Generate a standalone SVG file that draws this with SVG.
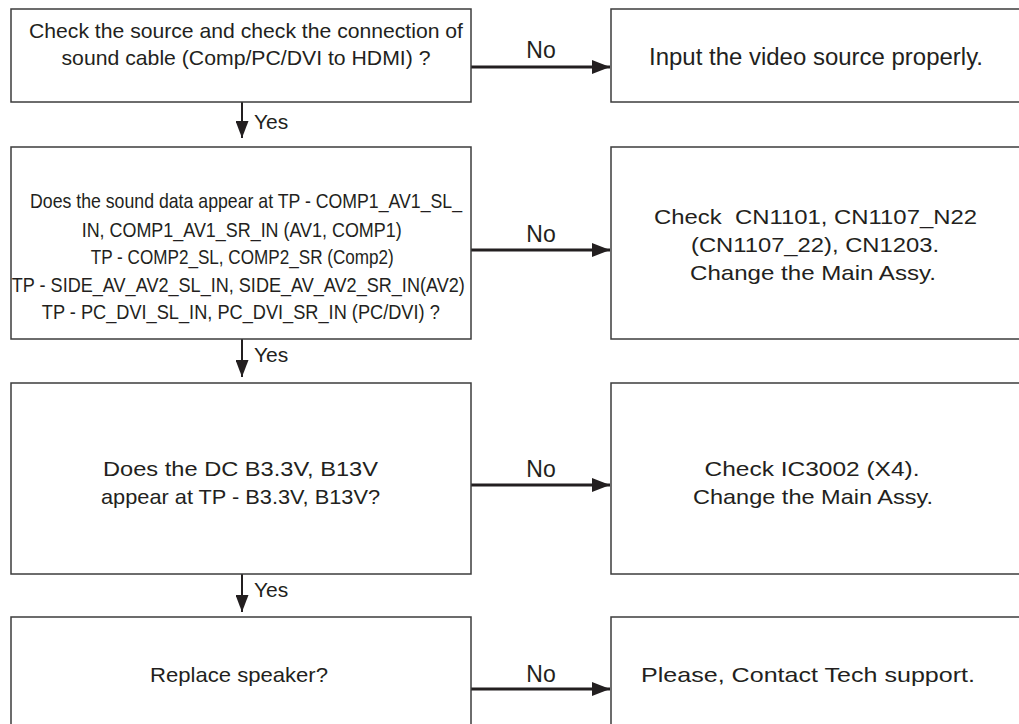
<svg xmlns="http://www.w3.org/2000/svg" width="1019" height="724" viewBox="0 0 1019 724">
<style>
.box{fill:#fff;stroke:#3c3c3c;stroke-width:1.5}
.t{font-family:"Liberation Sans",Arial,sans-serif;font-size:21px;fill:#231f20;text-anchor:middle}
.no-l{font-family:"Liberation Sans",Arial,sans-serif;font-size:23px;fill:#231f20;text-anchor:middle}
.yes-l{font-family:"Liberation Sans",Arial,sans-serif;font-size:21px;fill:#231f20}
.no{stroke:#231f20;stroke-width:3;fill:none}
.yes{stroke:#231f20;stroke-width:2;fill:none}
</style>
<defs>
<marker id="ah" viewBox="0 0 18 14" refX="18" refY="7" markerWidth="18" markerHeight="14" markerUnits="userSpaceOnUse" orient="auto"><path d="M0,0 L18,7 L0,14 z" fill="#231f20"/></marker>
<marker id="ahy" viewBox="0 0 17 13" refX="17" refY="6.5" markerWidth="17" markerHeight="13" markerUnits="userSpaceOnUse" orient="auto"><path d="M0,0 L17,6.5 L0,13 z" fill="#231f20"/></marker>
</defs>
<rect width="1019" height="724" fill="#fff"/>
<g id="connectors">
<line class="no" x1="471" y1="67" x2="610" y2="67" marker-end="url(#ah)"/>
<line class="no" x1="471" y1="250" x2="610" y2="250" marker-end="url(#ah)"/>
<line class="no" x1="471" y1="485" x2="610" y2="485" marker-end="url(#ah)"/>
<line class="no" x1="471" y1="689" x2="610" y2="689" marker-end="url(#ah)"/>
<line class="yes" x1="242" y1="102" x2="242" y2="138" marker-end="url(#ahy)"/>
<line class="yes" x1="242" y1="339" x2="242" y2="377" marker-end="url(#ahy)"/>
<line class="yes" x1="242" y1="574" x2="242" y2="612" marker-end="url(#ahy)"/>
<text class="no-l" x="541" y="57.5">No</text>
<text class="no-l" x="541" y="241.5">No</text>
<text class="no-l" x="541" y="477">No</text>
<text class="no-l" x="541" y="681.5">No</text>
<text class="yes-l" x="254" y="129">Yes</text>
<text class="yes-l" x="254" y="362">Yes</text>
<text class="yes-l" x="254" y="597">Yes</text>
</g>
<g id="q1">
<rect class="box" x="11" y="9" width="460" height="93"/>
<text class="t" x="246" y="37.5" textLength="434" lengthAdjust="spacingAndGlyphs">Check the source and check the connection of</text>
<text class="t" x="246" y="64.5" textLength="369" lengthAdjust="spacingAndGlyphs">sound cable (Comp/PC/DVI to HDMI) ?</text>
</g>
<g id="a1">
<rect class="box" x="611" y="9" width="420" height="93"/>
<text class="t" x="816" y="65" style="font-size:23.5px" textLength="334" lengthAdjust="spacingAndGlyphs">Input the video source properly.</text>
</g>
<g id="q2">
<rect class="box" x="11" y="147" width="460" height="192"/>
<text class="t" x="246" y="208.3" textLength="432" lengthAdjust="spacingAndGlyphs">Does the sound data appear at TP - COMP1_AV1_SL_</text>
<text class="t" x="241.7" y="236.7" textLength="320" lengthAdjust="spacingAndGlyphs">IN, COMP1_AV1_SR_IN (AV1, COMP1)</text>
<text class="t" x="242.3" y="264" textLength="303" lengthAdjust="spacingAndGlyphs">TP - COMP2_SL, COMP2_SR (Comp2)</text>
<text class="t" x="238.3" y="291.7" textLength="453" lengthAdjust="spacingAndGlyphs">TP - SIDE_AV_AV2_SL_IN, SIDE_AV_AV2_SR_IN(AV2)</text>
<text class="t" x="240.8" y="319.3" textLength="398" lengthAdjust="spacingAndGlyphs">TP - PC_DVI_SL_IN, PC_DVI_SR_IN (PC/DVI) ?</text>
</g>
<g id="a2">
<rect class="box" x="611" y="147" width="420" height="192"/>
<text class="t" x="815.5" y="224.3" xml:space="preserve" textLength="323" lengthAdjust="spacingAndGlyphs">Check  CN1101, CN1107_N22</text>
<text class="t" x="815" y="252.3" textLength="248" lengthAdjust="spacingAndGlyphs">(CN1107_22), CN1203.</text>
<text class="t" x="813" y="280" textLength="246" lengthAdjust="spacingAndGlyphs">Change the Main Assy.</text>
</g>
<g id="q3">
<rect class="box" x="11" y="383" width="460" height="191"/>
<text class="t" x="240.5" y="476" textLength="275" lengthAdjust="spacingAndGlyphs">Does the DC B3.3V, B13V</text>
<text class="t" x="240.5" y="504" textLength="279" lengthAdjust="spacingAndGlyphs">appear at TP - B3.3V, B13V?</text>
</g>
<g id="a3">
<rect class="box" x="611" y="383" width="420" height="191"/>
<text class="t" x="812" y="476" textLength="215" lengthAdjust="spacingAndGlyphs">Check IC3002 (X4).</text>
<text class="t" x="813" y="504" textLength="240" lengthAdjust="spacingAndGlyphs">Change the Main Assy.</text>
</g>
<g id="q4">
<rect class="box" x="11" y="617" width="460" height="130"/>
<text class="t" x="239" y="682" textLength="178" lengthAdjust="spacingAndGlyphs">Replace speaker?</text>
</g>
<g id="a4">
<rect class="box" x="611" y="617" width="420" height="130"/>
<text class="t" x="808" y="682" textLength="334" lengthAdjust="spacingAndGlyphs">Please, Contact Tech support.</text>
</g>
</svg>
